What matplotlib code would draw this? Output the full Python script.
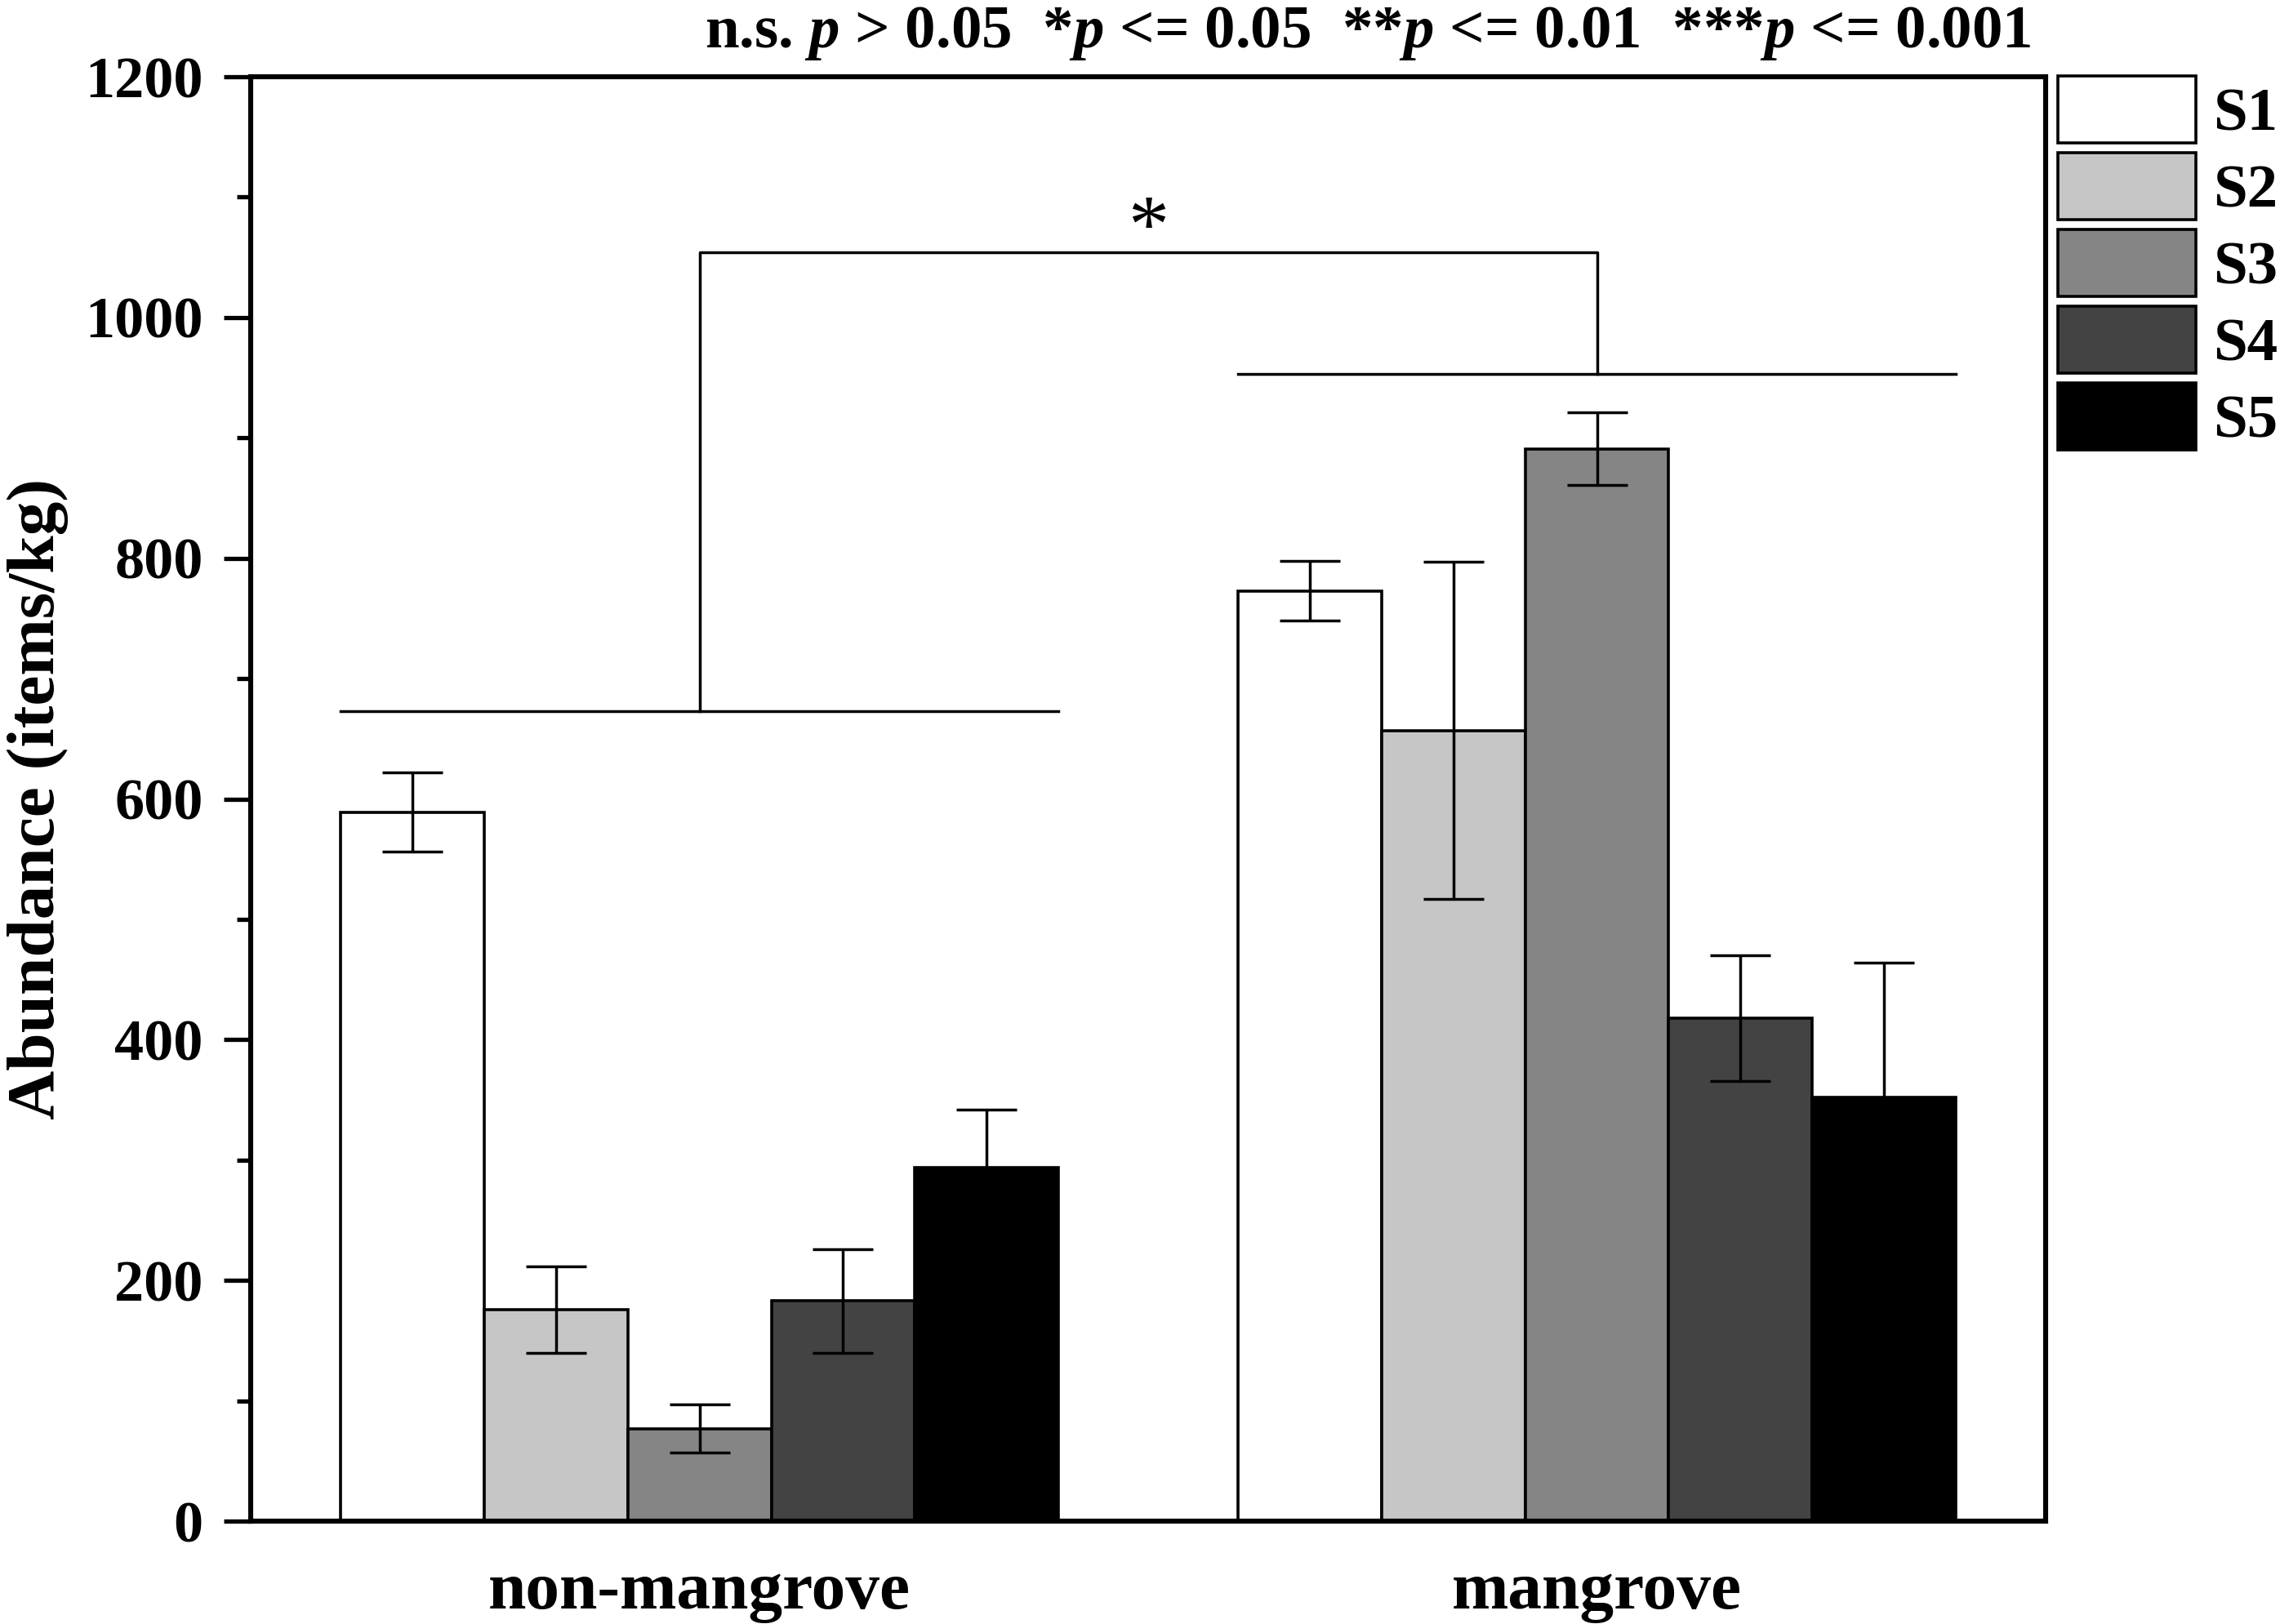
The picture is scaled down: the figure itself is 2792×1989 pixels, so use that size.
import numpy as np
import matplotlib
matplotlib.use("Agg")
import matplotlib.pyplot as plt
from matplotlib.ticker import MultipleLocator

plt.rcParams['font.family'] = ['Liberation Serif', 'DejaVu Serif']
plt.rcParams['font.weight'] = 'bold'
plt.rcParams['mathtext.fontset'] = 'custom'
plt.rcParams['mathtext.rm'] = 'Liberation Serif:bold'
plt.rcParams['mathtext.it'] = 'Liberation Serif:italic:bold'

# data
groups = ['non-mangrove', 'mangrove']
sites = ['S1', 'S2', 'S3', 'S4', 'S5']
means = {
    'S1': [589, 773],
    'S2': [176, 657],
    'S3': [77, 891],
    'S4': [183, 418],
    'S5': [294, 352],
}
sds = {
    'S1': [33, 25],
    'S2': [36, 140],
    'S3': [20, 30],
    'S4': [43, 52],
    'S5': [48, 112],
}
colors = ['#ffffff', '#c6c6c6', '#858585', '#434343', '#000000']

# significance annotation
group_line = [673, 953]
bracket_top = 1054
star_y = 1072
sig_label = '*'
legend_note = r"n.s. $p$ > 0.05  *$p$ <= 0.05  **$p$ <= 0.01  ***$p$ <= 0.001"

fig = plt.figure(figsize=(13.96, 9.945), dpi=200)
ax = fig.add_axes([0.110, 0.0633, 0.7872, 0.8894])

x = np.arange(len(groups))
width = 0.16
for i, (s, c) in enumerate(zip(sites, colors)):
    pos = x - 0.4 + width * (i + 0.5)
    ax.bar(pos, means[s], width, color=c, edgecolor='black', linewidth=1.3,
           label=s, yerr=sds[s], zorder=2,
           error_kw=dict(ecolor='black', elinewidth=1.25, capsize=13.4, capthick=1.25, zorder=3))

# group lines and bracket
for xi, ly in zip(x, group_line):
    ax.plot([xi - 0.4, xi + 0.4], [ly, ly], color='black', lw=1.25)
ax.plot([x[0], x[0], x[1], x[1]], [group_line[0], bracket_top, bracket_top, group_line[1]],
        color='black', lw=1.25)
ax.text(x.mean(), star_y, sig_label, ha='center', va='center', fontsize=36, fontweight='normal')

ax.set_xlim(-0.5, 1.5)
ax.set_ylim(0, 1200)
ax.set_xticks(x)
ax.set_xticklabels(groups, fontsize=30, fontweight='bold')
ax.tick_params(axis='x', length=0, pad=18)
ax.yaxis.set_major_locator(MultipleLocator(200))
ax.yaxis.set_minor_locator(MultipleLocator(100))
ax.tick_params(axis='y', which='major', direction='out', length=12, width=1.9, labelsize=26, pad=9)
ax.tick_params(axis='y', which='minor', direction='out', length=6, width=1.9)
for lab in ax.get_yticklabels():
    lab.set_fontweight('bold')
for sp in ax.spines.values():
    sp.set_linewidth(2.2)
ax.set_ylabel('Abundance (items/kg)', fontsize=30, fontweight='bold')
ax.yaxis.set_label_coords(-0.1013, 0.5)

ax.legend(loc='upper left', bbox_to_anchor=(1.0, 1.009), frameon=False, fontsize=27,
          borderpad=0, borderaxespad=0.2, handlelength=2.25, handleheight=1.30,
          labelspacing=0.16, handletextpad=0.28)

fig.text(0.891, 0.9708, legend_note, ha='right', va='baseline', fontsize=27, fontweight='bold')

fig.savefig('out.png', dpi=200)
